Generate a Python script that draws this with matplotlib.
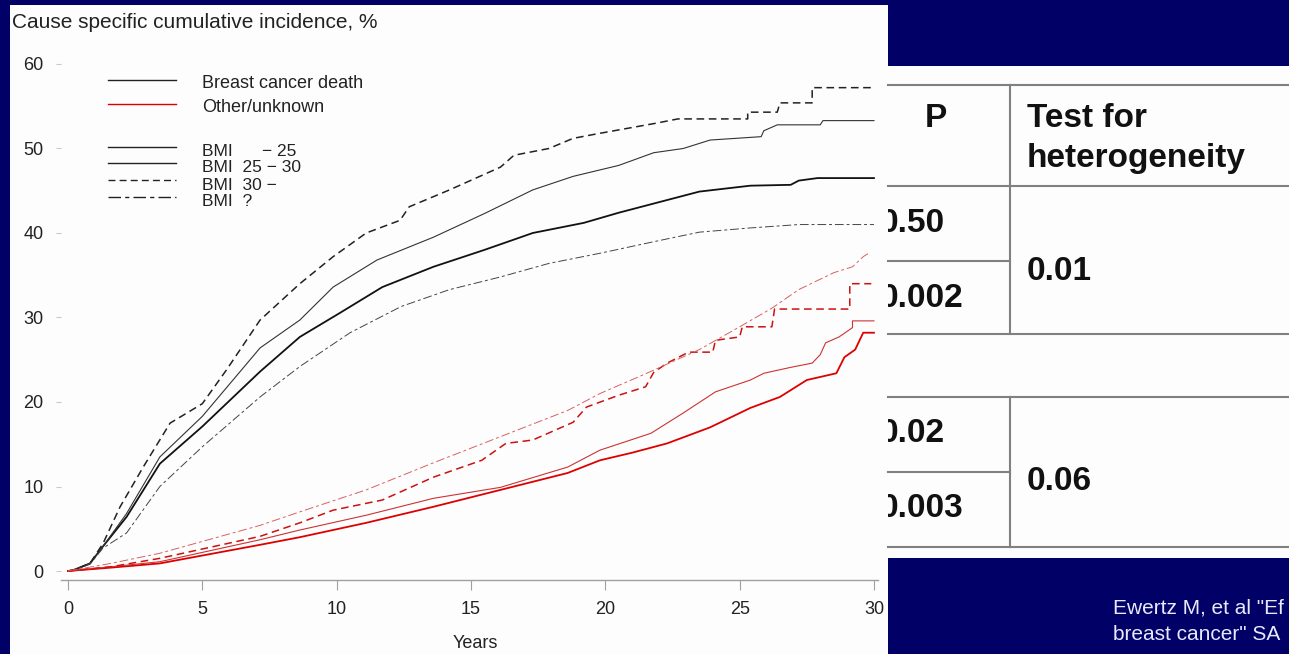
import matplotlib
matplotlib.use('Agg')
import matplotlib.pyplot as plt
from matplotlib.patches import Rectangle
from matplotlib.lines import Line2D

# 누적 발생률 데이터
# 유방암 사망, BMI 구간별
bc_lt25_t = [0, 0.2, 0.82, 1.3, 2.18, 3.42, 5.0, 7.15, 8.63, 10.1, 11.7, 13.6, 15.5, 17.3,
             19.2, 20.5, 22.3, 23.5, 25.4, 26.9, 27.2, 27.9, 30]
bc_lt25_v = [0, 0.1, 0.9, 2.9, 6.4, 12.7, 17.1, 23.6, 27.7, 30.5, 33.6, 36.0, 38.0, 40.0,
             41.2, 42.4, 43.9, 44.9, 45.6, 45.7, 46.2, 46.5, 46.5]

bc_25_30_t = [0, 0.2, 0.82, 1.3, 2.18, 3.42, 5.0, 7.15, 8.63, 9.87, 11.5, 13.6, 15.5, 17.3,
              18.8, 20.5, 21.8, 22.9, 23.9, 25.8, 25.9, 26.4, 28.0, 28.1, 30]
bc_25_30_v = [0, 0.1, 0.9, 2.9, 6.8, 13.5, 18.3, 26.4, 29.7, 33.6, 36.8, 39.5, 42.3, 45.1,
              46.7, 48.0, 49.5, 50.0, 51.0, 51.4, 52.1, 52.8, 52.8, 53.3, 53.3]

bc_30_t = [0, 0.2, 0.82, 1.31, 1.94, 2.8, 3.8, 5.0, 5.9, 7.15, 8.63, 9.87, 11.1, 12.36, 12.7,
           14.2, 16.1, 16.6, 17.9, 18.8, 19.8, 21.2, 21.9, 22.7, 25.3, 25.3, 26.4, 26.5,
           27.7, 27.7, 30]
bc_30_v = [0, 0.1, 0.9, 3.3, 7.6, 12.3, 17.5, 19.8, 23.8, 29.7, 34.0, 37.2, 40.0, 41.5, 43.1,
           45.1, 47.8, 49.2, 50.0, 51.2, 51.8, 52.6, 53.0, 53.5, 53.5, 54.3, 54.3, 55.4,
           55.4, 57.2, 57.2]

bc_unk_t = [0, 0.2, 0.82, 1.3, 2.18, 3.42, 5.0, 7.15, 8.63, 10.5, 12.4, 14.2, 16.1, 17.9,
            19.8, 21.7, 23.5, 25.4, 27.2, 30]
bc_unk_v = [0, 0.1, 0.8, 2.7, 4.5, 10.0, 14.7, 20.6, 24.2, 28.2, 31.3, 33.3, 34.8, 36.4,
            37.6, 38.9, 40.1, 40.6, 41.0, 41.0]

# 기타/미상 사망, BMI 구간별
ot_lt25_t = [0, 1.6, 3.42, 7.15, 8.63, 11.1, 13.6, 16.1, 18.6, 19.8, 21.0, 22.3, 23.9, 25.4,
             26.5, 27.5, 28.6, 28.9, 29.3, 29.6, 30]
ot_lt25_v = [0, 0.4, 0.9, 3.1, 4.0, 5.7, 7.6, 9.6, 11.6, 13.1, 14.0, 15.1, 17.0, 19.3,
             20.6, 22.6, 23.4, 25.3, 26.2, 28.2, 28.2]

ot_25_30_t = [0, 1.6, 3.42, 7.15, 8.63, 11.1, 13.6, 16.1, 18.6, 19.8, 21.7, 22.9, 24.1, 25.4,
              25.9, 26.9, 27.7, 28.0, 28.2, 28.7, 29.2, 29.2, 30]
ot_25_30_v = [0, 0.5, 1.1, 3.7, 4.85, 6.6, 8.6, 9.9, 12.3, 14.3, 16.3, 18.7, 21.2, 22.6,
              23.4, 24.1, 24.6, 25.6, 27.0, 27.7, 28.8, 29.6, 29.6]

ot_30_t = [0, 1.6, 3.42, 7.15, 8.63, 9.87, 11.7, 13.6, 15.4, 16.3, 17.3, 18.8, 19.3, 20.5,
           21.5, 21.8, 22.3, 23.1, 24.0, 24.1, 25.0, 25.1, 26.2, 26.3, 29.1, 29.1, 29.9]
ot_30_v = [0, 0.5, 1.5, 4.1, 5.7, 7.2, 8.4, 11.1, 13.1, 15.1, 15.5, 17.6, 19.4, 20.8,
           21.8, 23.5, 24.6, 25.9, 25.9, 27.3, 27.7, 28.9, 28.9, 31.0, 31.0, 34.0, 34.0]

ot_unk_t = [0, 1.6, 3.42, 7.15, 8.63, 11.1, 13.6, 16.1, 18.6, 19.8, 21.4, 23.5, 25.0, 26.2,
            27.2, 28.5, 29.2, 29.6, 29.8]
ot_unk_v = [0, 0.9, 2.1, 5.4, 7.0, 9.6, 12.8, 15.9, 19.0, 21.0, 23.2, 26.2, 28.9, 31.1,
            33.3, 35.3, 36.0, 37.2, 37.6]

x_ticks = [0, 5, 10, 15, 20, 25, 30]
y_ticks = [0, 10, 20, 30, 40, 50, 60]

cause_labels = ['Breast cancer death', 'Other/unknown']
bmi_labels = ['BMI      \u2212 25', 'BMI  25 \u2212 30', 'BMI  30 \u2212', 'BMI  ?']

# 오른쪽 표 내용
p_values = ['0.50', '0.002', '0.02', '0.003']
het_values = ['0.01', '0.06']
citation = ['Ewertz M, et al "Ef', 'breast cancer" SA']

W, H = 1289, 654
NAVY = '#000066'


def fx(x):
    return x / W


def fy(y):
    return 1 - y / H


fig = plt.figure(figsize=(W / 100, H / 100), dpi=100)
fig.patch.set_facecolor(NAVY)

# 흰색 패널
chart_panel = Rectangle((fx(10), fy(654)), fx(878), 649 / H, transform=fig.transFigure,
                        facecolor='#fdfdfd', edgecolor='none', zorder=-10)
table_panel = Rectangle((fx(888), fy(558)), fx(401), 492 / H, transform=fig.transFigure,
                        facecolor='#fdfdfd', edgecolor='none', zorder=-10)
fig.patches.extend([chart_panel, table_panel])

# 그래프 축
ax = fig.add_axes([fx(61), 74 / H, 817 / W, 540 / H])
ax.set_facecolor('none')
ax.set_xlim(-0.26, 30.15)
ax.set_ylim(-1.065, 62.84)

styles = {
    'lt25': dict(ls='-', lw=1.3),
    '25_30': dict(ls='-', lw=0.8),
    '30': dict(ls=(0, (5, 3)), lw=1.1),
    'unk': dict(ls=(0, (9, 3, 3, 3)), lw=0.7),
}

ax.plot(bc_lt25_t, bc_lt25_v, color='#111111', **styles['lt25'])
ax.plot(bc_25_30_t, bc_25_30_v, color='#333333', **styles['25_30'])
ax.plot(bc_30_t, bc_30_v, color='#222222', **styles['30'])
ax.plot(bc_unk_t, bc_unk_v, color='#444444', **styles['unk'])

ax.plot(ot_lt25_t, ot_lt25_v, color='#dd0000', **styles['lt25'])
ax.plot(ot_25_30_t, ot_25_30_v, color='#cc3333', **styles['25_30'])
ax.plot(ot_30_t, ot_30_v, color='#cc1111', **styles['30'])
ax.plot(ot_unk_t, ot_unk_v, color='#d86060', **styles['unk'])

for s in ['left', 'top', 'right']:
    ax.spines[s].set_visible(False)
ax.spines['bottom'].set_color('#a0a0a0')
ax.spines['bottom'].set_linewidth(1.0)

ax.set_xticks(x_ticks)
ax.set_yticks(y_ticks)
ax.tick_params(axis='x', direction='out', length=7, width=0.8, color='#a0a0a0', pad=8,
               labelsize=13, labelcolor='#222222')
ax.tick_params(axis='y', direction='out', length=3.6, width=0.8, color='#c8c8c8', pad=9,
               labelsize=13, labelcolor='#222222')
for lab in ax.get_xticklabels() + ax.get_yticklabels():
    lab.set_family(['Liberation Sans'])

fig.text(fx(475), fy(643), 'Years', ha='center', va='center', fontsize=13,
         family=['Liberation Sans'], color='#222222')
fig.text(fx(12), fy(22), 'Cause specific cumulative incidence, %', ha='left', va='center',
         fontsize=15, family=['Liberation Sans'], color='#222222')

# 범례 (직접 그림)
leg_y = [80, 104]
for y, lab, c in zip(leg_y, cause_labels, ['#222222', '#dd0000']):
    fig.lines.append(Line2D([fx(108), fx(176)], [fy(y), fy(y)], transform=fig.transFigure,
                            color=c, lw=1.0))
    fig.text(fx(202), fy(y + 4), lab, ha='left', va='center', fontsize=13,
             family=['Liberation Sans'], color='#222222')

bmi_y = [147, 163, 180, 197]
for y, lab, key in zip(bmi_y, bmi_labels, ['lt25', '25_30', '30', 'unk']):
    st = dict(styles[key])
    st['lw'] = 1.0
    fig.lines.append(Line2D([fx(108), fx(176)], [fy(y), fy(y)], transform=fig.transFigure,
                            color='#222222', **st))
    fig.text(fx(202), fy(y + 5), lab, ha='left', va='center', fontsize=12.5,
             family=['Liberation Sans'], color='#222222')

# 표 선
grid_c = '#808080'
hlines = [(85, 888, 1289), (186, 888, 1289), (261, 888, 1010), (334, 888, 1289),
          (397, 888, 1289), (472, 888, 1010), (547, 888, 1289)]
for y, x0, x1 in hlines:
    fig.lines.append(Line2D([fx(x0), fx(x1)], [fy(y), fy(y)], transform=fig.transFigure,
                            color=grid_c, lw=1.5))
for y0, y1 in [(85, 334), (397, 547)]:
    fig.lines.append(Line2D([fx(1010), fx(1010)], [fy(y0), fy(y1)], transform=fig.transFigure,
                            color=grid_c, lw=1.5))

tkw = dict(fontsize=24, fontweight='bold', family=['Liberation Sans'], color='#111111',
           va='baseline')
fig.text(fx(936), fy(127), 'P', ha='center', **tkw)
fig.text(fx(1027), fy(127), 'Test for', ha='left', **tkw)
fig.text(fx(1027), fy(167), 'heterogeneity', ha='left', **tkw)

for y, val in zip([232, 307, 442, 517], p_values):
    t = fig.text(fx(880), fy(y), val, ha='left', **tkw)
    t.set_clip_path(table_panel)
for y, val in zip([280, 490], het_values):
    fig.text(fx(1027), fy(y), val, ha='left', **tkw)

for y, line in zip([608, 634], citation):
    fig.text(fx(1113), fy(y), line, ha='left', va='center', fontsize=15, color='#e8e8ff',
             family=['Liberation Sans'])

fig.savefig('out.png', dpi=100, facecolor=NAVY)
